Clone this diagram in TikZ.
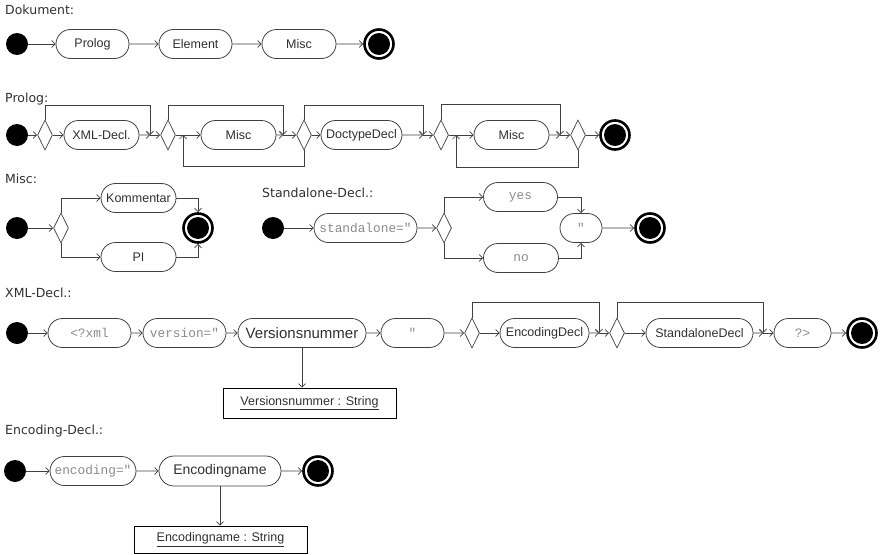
\documentclass[tikz,border=0pt]{standalone}
\usepackage{fontspec}
\setmainfont{Liberation Sans}
\setmonofont{Liberation Mono}
\newfontfamily\headfont{DejaVu Sans}
\usepackage{tikz}
\usetikzlibrary{arrows.meta, positioning, shapes.geometric, shapes.misc}

\definecolor{linegray}{HTML}{404040}
\definecolor{textgray}{HTML}{303030}
\definecolor{monogray}{HTML}{8A8A8A}

\begin{document}
\begin{tikzpicture}[
  x=1pt, y=-1pt,
  font=\fontsize{12.5}{14}\selectfont,
  act/.style={
    rounded rectangle,
    draw=linegray,
    line width=0.8pt,
    minimum width=#1,
    minimum height=29pt,
    inner sep=1pt,
    text=textgray
  },
  act/.default=76pt,
  code/.style={
    act=#1,
    font=\ttfamily\fontsize{12.8}{15}\selectfont,
    text=monogray
  },
  code/.default=76pt,
  choice/.style={
    diamond,
    draw=linegray,
    line width=0.7pt,
    minimum width=15pt,
    minimum height=30pt,
    inner sep=0pt
  },
  initnode/.style={
    circle,
    fill=black,
    minimum size=22pt,
    inner sep=0pt
  },
  finalnode/.style={
    circle,
    draw=black,
    fill=white,
    line width=2.6pt,
    minimum size=29pt,
    inner sep=0pt,
    path picture={\fill[black] (path picture bounding box.center) circle (11pt);}
  },
  objbox/.style={
    rectangle,
    draw=black,
    line width=0.8pt,
    minimum width=173pt,
    minimum height=30pt,
    text=textgray
  },
  heading/.style={
    anchor=base west,
    inner sep=0pt,
    font=\headfont\fontsize{12.5}{14}\selectfont,
    text=textgray
  },
  flow/.style={
    -{Straight Barb[length=3.5pt,width=7pt]},
    draw=linegray,
    line width=0.7pt
  }
]

\useasboundingbox (0,0) rectangle (880,554);

% --- Dokument --------------------------------------------------------

\node[heading] (hdok) at (5,14) {Dokument:};

\node[initnode] (dstart) at (17,44) {};
\node[act=75pt] (dprolog) at (92.5,44) {Prolog};
\node[act=75pt] (delement) at (195.5,44) {Element};
\node[act=76pt] (dmisc) at (299,44) {Misc};
\node[finalnode] (dend) at (379,44) {};

\foreach \a/\b in {dstart/dprolog, dprolog/delement, delement/dmisc, dmisc/dend}
  \draw[flow] (\a) -- (\b);

% --- Prolog ----------------------------------------------------------

\node[heading] (hprolog) at (5,102) {Prolog:};

\node[initnode] (pstart) at (17,135) {};
\node[choice] (pc1) at (45,135) {};
\node[act=77pt] (pxml) at (101.5,135) {XML-Decl.};
\coordinate (pj1) at (150,135);
\node[choice] (pc2) at (168,135) {};
\coordinate (pb1) at (183,135);
\node[act=77pt] (pmisc1) at (238.5,135) {Misc};
\coordinate (pj2) at (283,135);
\node[choice] (pc3) at (304,135) {};
\node[act=83pt] (pdoct) at (361.5,135) {DoctypeDecl};
\coordinate (pj3) at (423,135);
\node[choice] (pc4) at (441,135) {};
\coordinate (pb2) at (456,135);
\node[act=77pt] (pmisc2) at (511.5,135) {Misc};
\coordinate (pj4) at (560,135);
\node[choice] (pc5) at (578,135) {};
\node[finalnode] (pend) at (615,135) {};

\foreach \a/\b in {pstart/pc1, pc1/pxml, pxml/pj1, pj1/pc2, pc2/pmisc1,
                   pmisc1/pj2, pj2/pc3, pc3/pdoct, pdoct/pj3, pj3/pc4,
                   pc4/pmisc2, pmisc2/pj4, pj4/pc5, pc5/pend}
  \draw[flow] (\a) -- (\b);

% optional parts skip over
\draw[flow] (pc1.north) -- ++(0,-14) -| (pj1);
\draw[flow] (pc2.north) -- ++(0,-14) -| (pj2);
\draw[flow] (pc3.north) -- ++(0,-14) -| (pj3);
\draw[flow] (pc4.north) -- ++(0,-15) -| (pj4);

% repetitions
\draw[flow] (pc3.south) -- ++(0,16) -| (pb1);
\draw[flow] (pc5.south) -- ++(0,17) -| (pb2);

% --- Misc ------------------------------------------------------------

\node[heading] (hmisc) at (5,183) {Misc:};

\node[initnode] (mstart) at (17,228) {};
\node[choice] (mc) at (61,228) {};
\node[act=77pt] (mkomm) at (138.5,198) {Kommentar};
\node[act=77pt] (mpi) at (138.5,257) {PI};
\node[finalnode] (mend) at (198,228) {};

\draw[flow] (mstart) -- (mc);
\draw[flow] (mc.north) |- (mkomm);
\draw[flow] (mc.south) |- (mpi);
\draw[flow] (mkomm) -| (mend);
\draw[flow] (mpi) -| (mend);

% --- Standalone-Decl. ------------------------------------------------

\node[heading] (hstand) at (262,197) {Standalone-Decl.:};

\node[initnode] (sstart) at (273,228) {};
\node[code=105pt] (sstand) at (365.5,228) {standalone="};
\node[choice] (sc) at (444,228) {};
\node[code=76pt] (syes) at (520.5,197) {yes};
\node[code=77pt] (sno) at (521,258) {no};
\node[code=44pt] (squote) at (581,228) {"};
\node[finalnode] (send) at (650,228) {};

\draw[flow] (sstart) -- (sstand);
\draw[flow] (sstand) -- (sc);
\draw[flow] (sc.north) |- (syes);
\draw[flow] (sc.south) |- (sno);
\draw[flow] (syes) -| (squote);
\draw[flow] (sno) -| (squote);
\draw[flow] (squote) -- (send);

% --- XML-Decl. -------------------------------------------------------

\node[heading] (hxml) at (5,297) {XML-Decl.:};

\node[initnode] (xstart) at (17,333) {};
\node[code=85pt] (xopen) at (89.5,333) {<?xml};
\node[code=85pt] (xver) at (184.5,333) {version="};
\node[act=130pt, font=\fontsize{15}{17}\selectfont] (xnum) at (302,333) {Versionsnummer};
\node[code=65pt] (xquote) at (412.5,333) {"};
\node[choice] (xc1) at (472,333) {};
\node[act=91pt] (xenc) at (544.5,333) {EncodingDecl};
\coordinate (xj1) at (599,333);
\node[choice] (xc2) at (617,333) {};
\node[act=109pt] (xstd) at (699.5,333) {StandaloneDecl};
\coordinate (xj2) at (763,333);
\node[code=59pt] (xclose) at (802.5,333) {?>};
\node[finalnode] (xend) at (862,333) {};

\node[objbox] (xbox) at (309.5,403) {\underline{Versionsnummer : String}};

\foreach \a/\b in {xstart/xopen, xopen/xver, xver/xnum, xnum/xquote, xquote/xc1,
                   xc1/xenc, xenc/xj1, xj1/xc2, xc2/xstd, xstd/xj2, xj2/xclose,
                   xclose/xend}
  \draw[flow] (\a) -- (\b);

\draw[flow] (xc1.north) -- ++(0,-15) -| (xj1);
\draw[flow] (xc2.north) -- ++(0,-15) -| (xj2);

% object flow to the value
\draw[flow] (xnum.south) -- (xnum.south |- xbox.north);

% --- Encoding-Decl. --------------------------------------------------

\node[heading] (hencd) at (5,434) {Encoding-Decl.:};

\node[initnode] (estart) at (15,471) {};
\node[code=88pt] (eenc) at (93,471) {encoding="};
\node[act=124pt, font=\fontsize{14}{16}\selectfont, minimum height=30pt] (ename) at (220,471) {Encodingname};
\node[finalnode] (eend) at (318,471) {};

\node[objbox, minimum height=27pt] (ebox) at (220.5,539.5) {\underline{Encodingname : String}};

\draw[flow] (estart) -- (eenc);
\draw[flow] (eenc) -- (ename);
\draw[flow] (ename) -- (eend);
\draw[flow] (ename.south) -- (ename.south |- ebox.north);

\end{tikzpicture}
\end{document}
